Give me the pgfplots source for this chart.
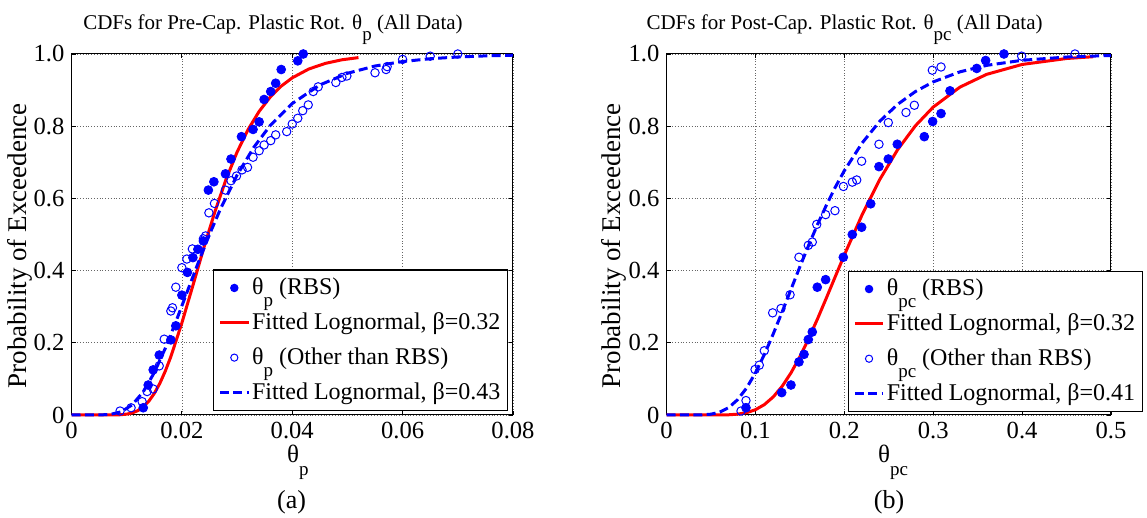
\documentclass[border=0pt]{standalone}
\usepackage{fontspec}
\setmainfont{Liberation Serif}
\usepackage{pgfplots}
\pgfplotsset{compat=1.18}
\newcommand{\sub}[1]{\raisebox{-0.5em}{\fontsize{9.5}{9.5}\selectfont #1}}
\pgfplotsset{cdf/.style={
  scale only axis, height=180.5pt,
  ymin=0, ymax=1, ytick={0,0.2,0.4,0.6,0.8,1}, yticklabels={0,0.2,0.4,0.6,0.8,1.0},
  scaled x ticks=false, scaled y ticks=false,
  grid=major, major grid style={densely dotted, black!60, line width=0.35pt},
  tick align=inside, major tick length=2.2pt, tick style={black, line width=0.4pt},
  axis line style={black, line width=0.5pt},
  ticklabel style={font=\fontsize{12.3}{12.3}\selectfont},
  clip=false,
  legend cell align=left,
  legend style={anchor=south west, draw=black, line width=0.6pt, fill=white,
    font=\fontsize{12}{12}\selectfont, row sep=5.5pt, inner xsep=2.5pt, inner ysep=3pt,
    nodes={inner sep=1pt}},
  legend image code/.code={\draw[#1] (0cm,0cm) -- (0.5cm,0cm);},
  rbs/.style={only marks, mark=*, mark size=2.2pt, draw=blue, fill=blue,
    legend image code/.code={\draw[##1,mark size=1.8pt] plot coordinates {(0.25cm,0cm)};}},
  oth/.style={only marks, mark=o, mark size=2.1pt, draw=blue, line width=0.5pt,
    legend image code/.code={\draw[##1,mark size=1.8pt] plot coordinates {(0.25cm,0cm)};}},
  redl/.style={red, line width=1.5pt, no marks},
  bluel/.style={blue, line width=1.5pt, no marks, dash pattern=on 4.5pt off 2.2pt},
}}
\begin{document}
\begin{tikzpicture}
\path[use as bounding box] (0,0) rectangle (573.5pt,259pt);
% ---------------- (a)
\begin{axis}[cdf, at={(35.75pt,51.5pt)}, anchor=south west, width=220.75pt,
  xmin=0, xmax=0.08, xtick={0,0.02,0.04,0.06,0.08}, xticklabels={0,0.02,0.04,0.06,0.08},
  legend style={at={(0.3205,0.011)}}]
\addplot[rbs] coordinates {
(0.0130,0.020) (0.0139,0.083) (0.0148,0.125) (0.0159,0.166) (0.0180,0.208) (0.0189,0.247)
(0.0200,0.332) (0.0210,0.395) (0.0220,0.436) (0.0229,0.459) (0.0239,0.482) (0.0248,0.623)
(0.0258,0.646) (0.0279,0.668) (0.0289,0.709) (0.0308,0.771) (0.0329,0.791) (0.0340,0.812)
(0.0349,0.874) (0.0361,0.896) (0.0370,0.919) (0.0380,0.957) (0.0410,0.981) (0.0420,1.000)};
\addlegendentry{θ\sub{p} (RBS)}
\addplot[redl] coordinates {
(0,0) (0.005,0) (0.008,0.0002) (0.009,0.0008) (0.01,0.0024) (0.011,0.0057) (0.012,0.012)
(0.013,0.0224) (0.014,0.038) (0.015,0.0596) (0.016,0.0874) (0.017,0.1216) (0.018,0.1614)
(0.02,0.255) (0.022,0.3588) (0.024,0.4643) (0.026,0.5637) (0.028,0.6525) (0.03,0.7282)
(0.032,0.7908) (0.034,0.841) (0.036,0.8805) (0.038,0.9109) (0.04,0.934) (0.043,0.9584)
(0.046,0.974) (0.049,0.9839) (0.052,0.99)};
\addlegendentry{Fitted Lognormal, β=0.32}
\addplot[oth] coordinates {
(0.0088,0.011) (0.0108,0.020) (0.0128,0.037) (0.0137,0.065) (0.0148,0.072) (0.0159,0.136)
(0.0168,0.210) (0.0180,0.288) (0.0183,0.297) (0.0189,0.354) (0.0200,0.408) (0.0209,0.432)
(0.0219,0.460) (0.0239,0.488) (0.0243,0.496) (0.0249,0.560) (0.0259,0.586) (0.0279,0.623)
(0.0289,0.649) (0.0299,0.662) (0.0309,0.679) (0.0319,0.686) (0.0329,0.714) (0.0340,0.732)
(0.0349,0.748) (0.0361,0.760) (0.0370,0.776) (0.0390,0.785) (0.0400,0.806) (0.0410,0.822)
(0.0419,0.843) (0.0429,0.859) (0.0438,0.896) (0.0447,0.909) (0.0479,0.921) (0.0490,0.935)
(0.0499,0.939) (0.0550,0.948) (0.0570,0.957) (0.0572,0.965) (0.0600,0.985) (0.0650,0.994)
(0.0700,1.000)};
\addlegendentry{θ\sub{p} (Other than RBS)}
\addplot[bluel] coordinates {
(0,0) (0.005,0.0001) (0.007,0.0015) (0.009,0.0088) (0.011,0.0281) (0.013,0.0642)
(0.015,0.1174) (0.017,0.1849) (0.019,0.2617) (0.021,0.3427) (0.023,0.4231) (0.025,0.5)
(0.027,0.571) (0.03,0.6642) (0.033,0.7408) (0.036,0.8018) (0.04,0.8628) (0.045,0.9142)
(0.05,0.9465) (0.055,0.9667) (0.06,0.9791) (0.065,0.9869) (0.07,0.9917) (0.075,0.9947)
(0.08,0.9966)};
\addlegendentry{Fitted Lognormal, β=0.43}
\end{axis}
% ---------------- (b)
\begin{axis}[cdf, at={(333.25pt,51.5pt)}, anchor=south west, width=222.25pt,
  xmin=0, xmax=0.5, xtick={0,0.1,0.2,0.3,0.4,0.5}, xticklabels={0,0.1,0.2,0.3,0.4,0.5},
  legend style={at={(0.4077,0.008)}}]
\addplot[rbs] coordinates {
(0.0894,0.020) (0.1296,0.062) (0.1400,0.083) (0.1490,0.147) (0.1547,0.168) (0.1595,0.209)
(0.1640,0.230) (0.1696,0.354) (0.1790,0.375) (0.1989,0.437) (0.2090,0.500) (0.2195,0.520)
(0.2297,0.585) (0.2390,0.688) (0.2495,0.709) (0.2596,0.750) (0.2900,0.771) (0.2994,0.813)
(0.3088,0.835) (0.3189,0.898) (0.3490,0.960) (0.3590,0.982) (0.3796,1.000)};
\addlegendentry{θ\sub{pc} (RBS)}
\addplot[redl] coordinates {
(0,0) (0.05,0) (0.07,0.0006) (0.08,0.0023) (0.09,0.0064) (0.1,0.0146) (0.11,0.0286)
(0.12,0.0499) (0.13,0.0792) (0.14,0.1165) (0.15,0.1612) (0.16,0.2119) (0.17,0.267)
(0.18,0.3251) (0.19,0.3842) (0.2,0.4429) (0.22,0.5544) (0.24,0.6527) (0.26,0.735)
(0.28,0.8012) (0.3,0.8529) (0.33,0.9081) (0.36,0.9435) (0.4,0.971) (0.45,0.9875) (0.48,0.9925)};
\addlegendentry{Fitted Lognormal, β=0.32}
\addplot[oth] coordinates {
(0.0838,0.011) (0.0894,0.040) (0.0996,0.126) (0.1044,0.138) (0.1100,0.178) (0.1194,0.283)
(0.1288,0.295) (0.1390,0.333) (0.1490,0.437) (0.1595,0.470) (0.1640,0.479) (0.1690,0.528)
(0.1790,0.555) (0.1895,0.566) (0.1990,0.633) (0.2090,0.645) (0.2140,0.651) (0.2195,0.703)
(0.2390,0.750) (0.2495,0.810) (0.2694,0.838) (0.2788,0.858) (0.2990,0.955) (0.3088,0.964)
(0.3995,0.994) (0.4595,1.000)};
\addlegendentry{θ\sub{pc} (Other than RBS)}
\addplot[bluel] coordinates {
(0,0) (0.04,0.0004) (0.05,0.0022) (0.06,0.008) (0.07,0.0206) (0.08,0.0424) (0.09,0.0745)
(0.1,0.1165) (0.11,0.1671) (0.12,0.2241) (0.13,0.2851) (0.14,0.3478) (0.15,0.4103)
(0.16,0.4708) (0.17,0.5283) (0.18,0.582) (0.19,0.6316) (0.2,0.6765) (0.22,0.7533)
(0.24,0.8139) (0.26,0.8605) (0.28,0.896) (0.3,0.9227) (0.33,0.9505) (0.36,0.9684)
(0.4,0.9825) (0.45,0.9916) (0.5,0.9959)};
\addlegendentry{Fitted Lognormal, β=0.41}
\end{axis}
% ---------------- titles and labels
\node[anchor=base, font=\fontsize{10.5}{10.5}\selectfont] at (136.5pt,244pt) {CDFs for Pre-Cap. Plastic Rot. θ\sub{p} (All Data)};
\node[anchor=base, font=\fontsize{10.5}{10.5}\selectfont] at (422.3pt,244pt) {CDFs for Post-Cap. Plastic Rot. θ\sub{pc} (All Data)};
\node[anchor=base west, font=\fontsize{12.5}{12.5}\selectfont] at (140pt,27.5pt) {θ\sub{p}};
\node[anchor=base west, font=\fontsize{12.5}{12.5}\selectfont] at (435.5pt,27.5pt) {θ\sub{pc}};
\node[anchor=base, font=\fontsize{13}{13}\selectfont] at (145.8pt,4.5pt) {(a)};
\node[anchor=base, font=\fontsize{13}{13}\selectfont] at (444.5pt,4.5pt) {(b)};
\node[rotate=90, font=\fontsize{13.5}{13.5}\selectfont] at (10pt,136pt) {Probability of Exceedence};
\node[rotate=90, font=\fontsize{13.5}{13.5}\selectfont] at (307pt,136pt) {Probability of Exceedence};
\end{tikzpicture}
\end{document}
